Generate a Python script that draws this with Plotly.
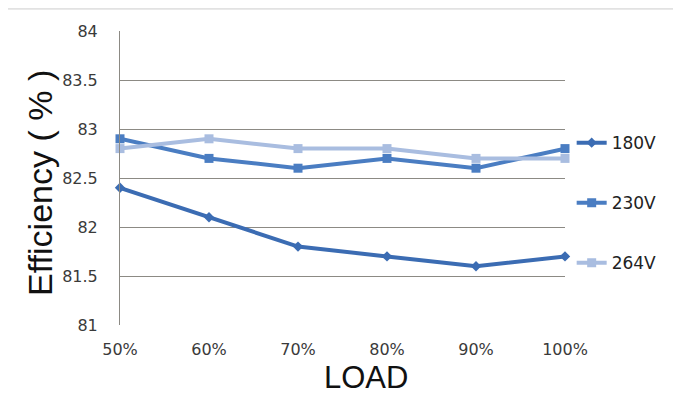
import plotly.graph_objects as go

loads = ["50%", "60%", "70%", "80%", "90%", "100%"]
v180 = [82.4, 82.1, 81.8, 81.7, 81.6, 81.7]
v230 = [82.9, 82.7, 82.6, 82.7, 82.6, 82.8]
v264 = [82.8, 82.9, 82.8, 82.8, 82.7, 82.7]
y_ticks = [81, 81.5, 82, 82.5, 83, 83.5, 84]
y_ticktext = ["81", "81.5", "82", "82.5", "83", "83.5", "84"]

fig = go.Figure()
fig.add_trace(go.Scatter(x=loads, y=v180, name="180V", mode="lines+markers",
                         line=dict(color="#3b6cb3", width=4),
                         marker=dict(symbol="diamond", size=8, color="#3b6cb3"),
                         legendgroup="a", cliponaxis=False))
fig.add_trace(go.Scatter(x=loads, y=v230, name="230V", mode="lines+markers",
                         line=dict(color="#4a7dc2", width=4),
                         marker=dict(symbol="square", size=9, color="#4a7dc2"),
                         legendgroup="b", cliponaxis=False))
fig.add_trace(go.Scatter(x=loads, y=v264, name="264V", mode="lines+markers",
                         line=dict(color="#a9bde0", width=4),
                         marker=dict(symbol="square", size=9, color="#a9bde0"),
                         legendgroup="c", cliponaxis=False))

fig.update_layout(
    width=681, height=405,
    margin=dict(l=112, r=124, t=23, b=88),
    paper_bgcolor="white", plot_bgcolor="white",
    font=dict(family="DejaVu Sans, Verdana, sans-serif", color="#333333"),
    showlegend=True,
    legend=dict(x=1.015, y=0.68, xanchor="left", yanchor="top",
                font=dict(size=17, color="#222222"), tracegroupgap=35,
                bgcolor="rgba(0,0,0,0)", itemwidth=30),
    xaxis=dict(type="category", range=[0, 5], showgrid=False,
               showline=False, ticks="", tickfont=dict(size=16, color="#3a3a3a"),
               ticklabelstandoff=13, zeroline=False),
    yaxis=dict(range=[81, 84], tickvals=y_ticks, ticktext=y_ticktext,
               showgrid=True, gridcolor="#8c8a84", gridwidth=1,
               showline=True, linecolor="#8c8a84", linewidth=1,
               ticks="", tickfont=dict(size=16, color="#3a3a3a"),
               ticklabelstandoff=18, zeroline=False),
)
fig.add_annotation(text="Efficiency ( % )", xref="paper", yref="paper",
                   x=-0.18, y=0.483, textangle=-90, showarrow=False,
                   xanchor="center", yanchor="middle",
                   font=dict(family="Liberation Sans, Arial, sans-serif", size=34, color="#111111"))
fig.add_annotation(text="LOAD", xref="paper", yref="paper",
                   x=0.553, y=-0.18, showarrow=False,
                   xanchor="center", yanchor="middle",
                   font=dict(family="Liberation Sans, Arial, sans-serif", size=31, color="#111111"))
fig.add_shape(type="line", xref="paper", yref="paper", x0=-0.254, x1=1.3, y0=1.075, y1=1.075,
              line=dict(color="#cccccc", width=1))
fig.add_shape(type="line", xref="paper", yref="paper", x0=-0.254, x1=-0.254, y0=1.075, y1=-0.3,
              line=dict(color="#999999", width=1.5))
fig.write_html("out.html")
